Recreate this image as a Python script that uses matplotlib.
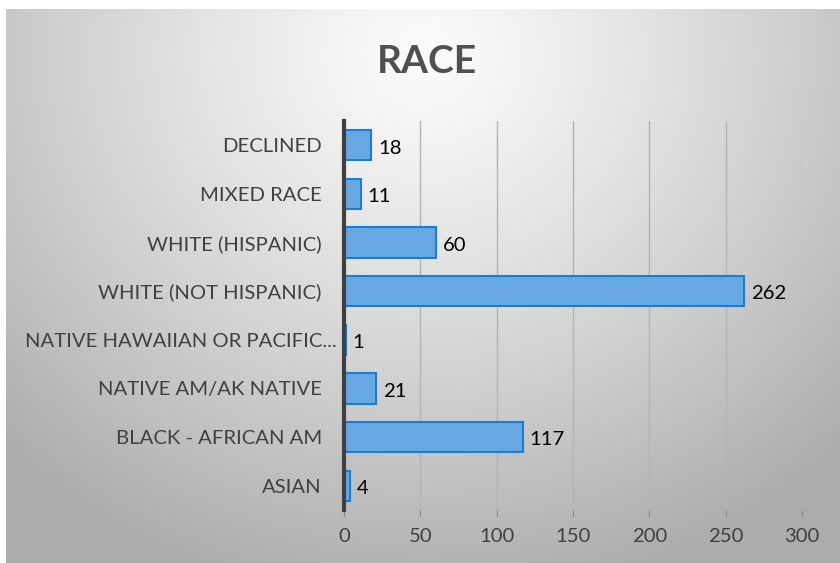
import numpy as np
import matplotlib
matplotlib.use("Agg")
import matplotlib.pyplot as plt
import matplotlib.transforms as mtransforms

# data, bottom to top as drawn
categories = ["ASIAN", "BLACK - AFRICAN AM", "NATIVE AM/AK NATIVE",
              "NATIVE HAWAIIAN OR PACIFIC...", "WHITE (NOT HISPANIC)",
              "WHITE (HISPANIC)", "MIXED RACE", "DECLINED"]
counts = [4, 117, 21, 1, 262, 60, 11, 18]
xticks = [0, 50, 100, 150, 200, 250, 300]

plt.rcParams['font.family'] = ['Lato', 'DejaVu Sans']

fig = plt.figure(figsize=(8.4, 5.63), dpi=100)
fig.patch.set_facecolor("white")

# radial gradient background of the chart area
bg = fig.add_axes([6/840, 0, 834/840, 554/563])
bg.set_axis_off()
gx, gy = np.meshgrid(np.linspace(0, 1, 400), np.linspace(1, 0, 270))
d = np.sqrt(((gx - 0.5) / 0.72) ** 2 + ((gy - 0.92) / 1.0) ** 2)
shade = 0.985 - 0.31 * np.clip(d, 0, 1) ** 1.2
bg.imshow(np.dstack([shade, shade, shade]), aspect="auto", extent=[0, 1, 0, 1])

ax = fig.add_axes([344/840, 1 - 510/563, 458/840, 389/563])
ax.patch.set_alpha(0)

ypos = np.arange(len(categories))
ax.barh(ypos, counts, height=0.62, color="#68A8E2", edgecolor="#1C7BD3",
        linewidth=1.5, zorder=3)

for y, v in zip(ypos, counts):
    ax.annotate(str(v), (v, y), xytext=(5, -2), textcoords="offset points",
                va="center", ha="left", fontsize=14.6, color="black")

ax.set_xlim(0, 300)
ax.set_ylim(-0.5, len(categories) - 0.5)
ax.set_xticks(xticks)
ax.set_yticks(ypos)
ax.set_yticklabels(categories)
ax.grid(axis="x", color="#b4b4b4", linewidth=1, zorder=0)
ax.tick_params(axis="x", colors="#8c8c8c", length=5, labelsize=14.6,
               labelcolor="#404040", pad=8)
ax.tick_params(axis="y", length=0, labelsize=14.6, labelcolor="#404040", pad=16)

# the truncated label overflows toward the axis, as in the original
lab = ax.get_yticklabels()[3]
lab.set_transform(lab.get_transform() +
                  mtransforms.ScaledTranslation(15/100, 0, fig.dpi_scale_trans))

for side in ["top", "right", "bottom"]:
    ax.spines[side].set_visible(False)
ax.spines["left"].set_color("#404040")
ax.spines["left"].set_linewidth(3)
ax.spines["left"].set_zorder(4)

fig.text(427/840, 1 - 61/563, "RACE", ha="center", va="center",
         fontsize=28, fontweight="bold", color="#505050")

fig.savefig("out.png", dpi=100)
